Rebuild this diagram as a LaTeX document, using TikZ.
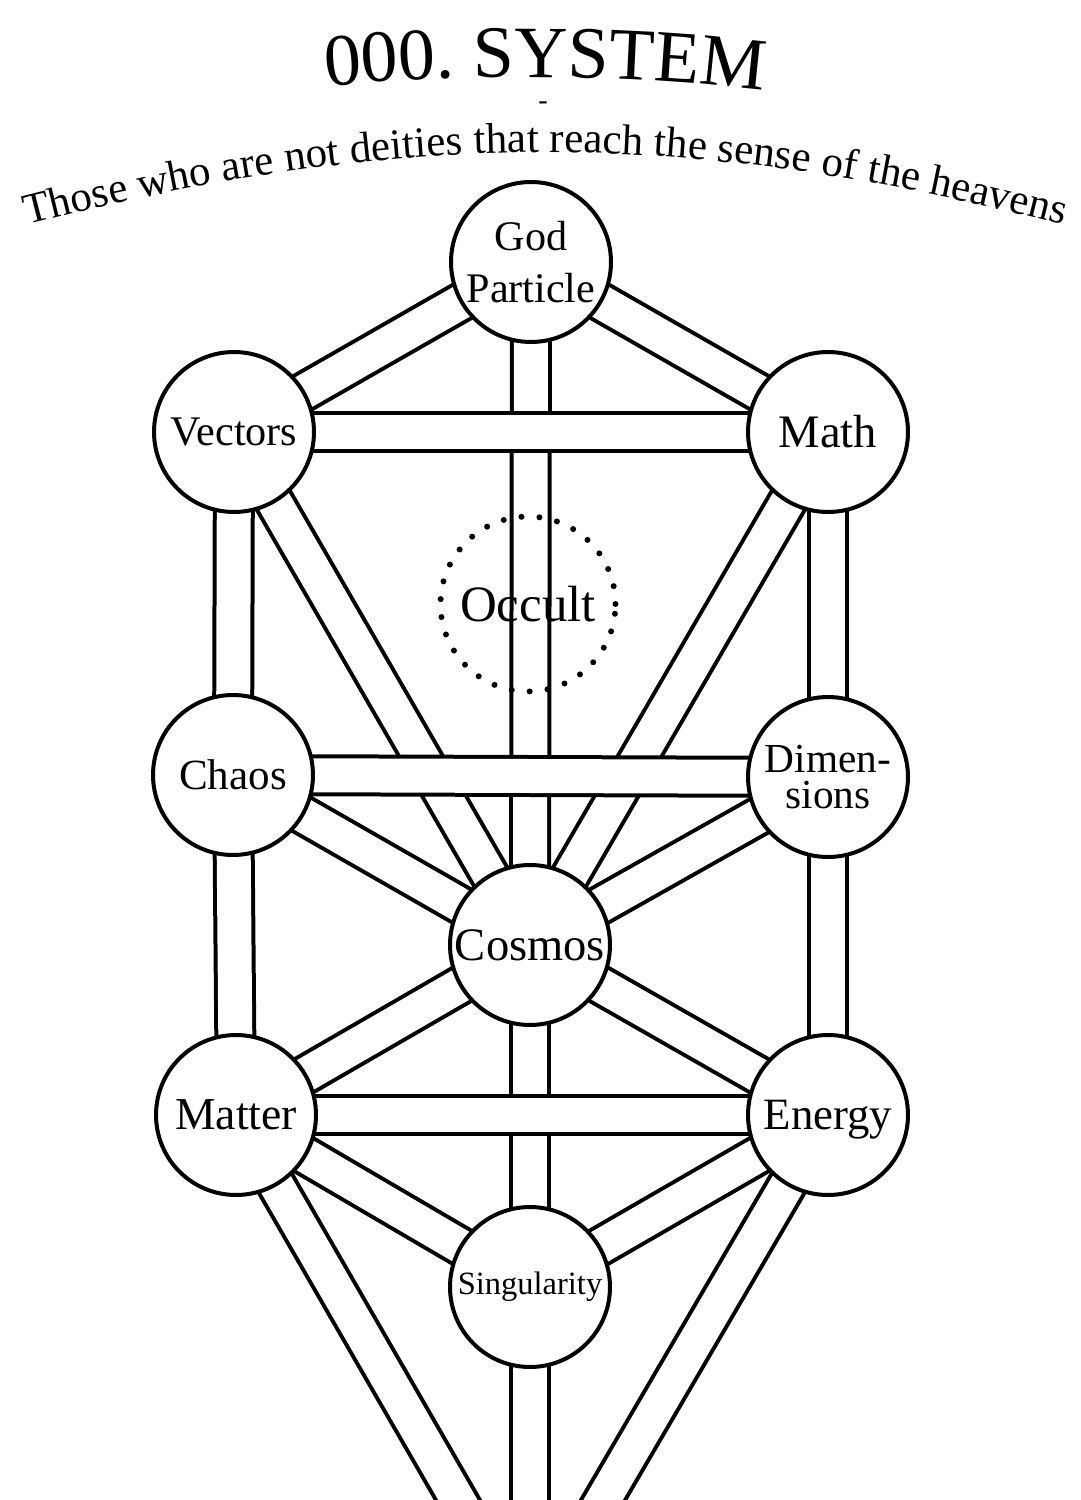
\documentclass[tikz,border=0pt]{standalone}
\usepackage{fontspec}
\setmainfont{Liberation Serif}
\usepackage{tikz}
\usetikzlibrary{positioning,decorations.text,backgrounds}
\tikzstyle{sphere} = [
    circle,
    draw=black,
    fill=white,
    line width=0.08cm,
    minimum size=3.2cm,
    inner sep=0pt,
    align=center,
    font=\fontsize{24}{30}\selectfont
]
\tikzstyle{hidden} = [
    circle,
    draw=black,
    line width=0.12cm,
    line cap=round,
    dash pattern=on 0pt off 0.36cm,
    minimum size=3.5cm,
    inner sep=0pt,
    font=\fontsize{29}{32}\selectfont
]
\tikzstyle{bandedge} = [line width=0.84cm, draw=black]
\tikzstyle{bandfill} = [line width=0.68cm, draw=white]

\begin{document}
\begin{tikzpicture}[x=0.02cm, y=-0.02cm]
    \useasboundingbox (0,0) rectangle (1080,1500);

    % Title
    \path[decorate, decoration={text along path, text align=center,
        text={|\fontsize{42}{42}\selectfont|000. SYSTEM}}]
        (290,90) .. controls (440,72) and (650,72) .. (800,96);
    \node[inner sep=0pt] (dash) at (543,106) {\fontsize{16}{16}\selectfont -};
    \path[decorate, decoration={text along path, text align=center,
        text={|\fontsize{24.5}{24.5}\selectfont|Those who are not deities that reach the sense of the heavens}}]
        (0,232) .. controls (398,126) and (692,126) .. (1090,232);

    % Spheres
    \node[sphere] (gp) at (531,262) {God\\Particle};
    \node[sphere] (vectors) at (234,432) {Vectors};
    \node[sphere, font=\fontsize{26.5}{30}\selectfont] (math) at (828,432) {Math};
    \node[hidden] (occult) at (528,604) {Occult};
    \node[sphere, font=\fontsize{24.5}{30}\selectfont] (chaos) at (233,775) {Chaos};
    \node[sphere, font=\fontsize{23.5}{20}\selectfont] (dimensions) at (828,777) {Dimen-\\sions};
    \node[sphere, font=\fontsize{26.5}{30}\selectfont] (cosmos) at (530,945) {Cosmos};
    \node[sphere, font=\fontsize{26}{30}\selectfont] (matter) at (236,1115) {Matter};
    \node[sphere, font=\fontsize{25.5}{30}\selectfont, text depth=0pt] (energy) at (828,1115) {Energy};
    \node[sphere, font=\fontsize{18.5}{20}\selectfont] (singularity) at (530,1287) {Singularity};
    \coordinate (malkuth) at (530,1625);

    % Paths between spheres
    \begin{pgfonlayer}{background}
        \clip (0,0) rectangle (1080,1500);
        \fill[white] (0,0) rectangle (1080,1500);
        \foreach \a/\b in {gp/vectors, gp/math, gp/cosmos, vectors/chaos, math/dimensions,
            vectors/cosmos, math/cosmos, chaos/cosmos, dimensions/cosmos,
            chaos/matter, dimensions/energy, cosmos/matter, cosmos/energy,
            cosmos/singularity, matter/singularity, energy/singularity,
            singularity/malkuth, matter/malkuth, energy/malkuth}
            \draw[bandedge] (\a.center) -- (\b.center);
        \foreach \a/\b in {gp/vectors, gp/math, gp/cosmos, vectors/chaos, math/dimensions,
            vectors/cosmos, math/cosmos, chaos/cosmos, dimensions/cosmos,
            chaos/matter, dimensions/energy, cosmos/matter, cosmos/energy,
            cosmos/singularity, matter/singularity, energy/singularity,
            singularity/malkuth, matter/malkuth, energy/malkuth}
            \draw[bandfill] (\a.center) -- (\b.center);
        % Crossbars on top
        \foreach \a/\b in {vectors/math, chaos/dimensions, matter/energy} {
            \draw[bandedge] (\a.center) -- (\b.center);
            \draw[bandfill] (\a.center) -- (\b.center);
        }
    \end{pgfonlayer}
\end{tikzpicture}
\end{document}
